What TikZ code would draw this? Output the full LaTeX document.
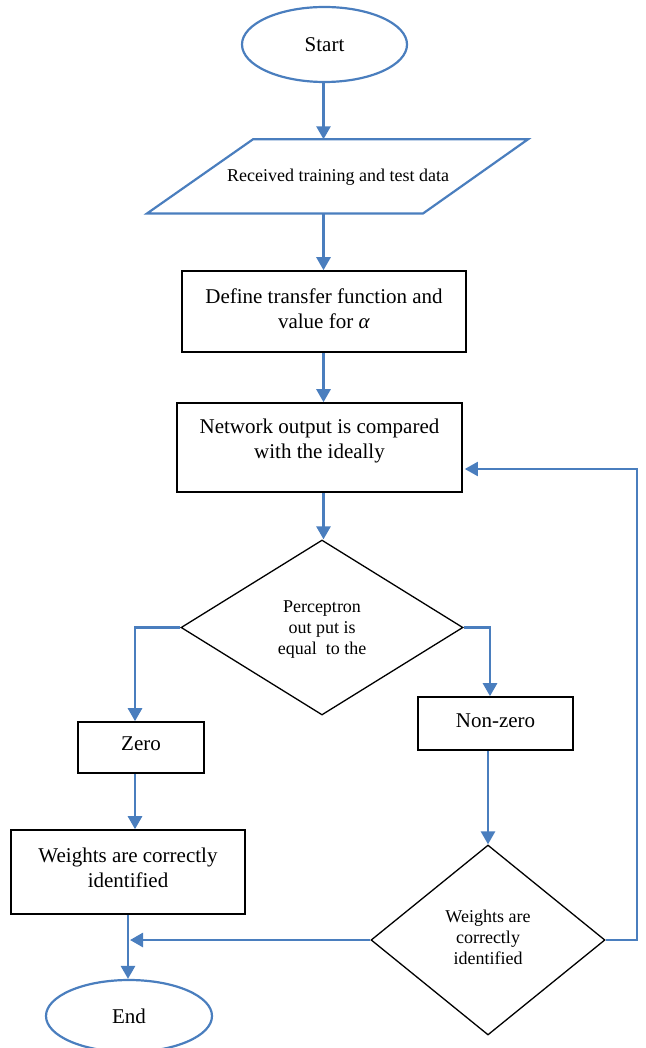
\documentclass[tikz,border=0pt]{standalone}
\usepackage{fontspec}
\setmainfont{Liberation Serif}
\usetikzlibrary{shapes.geometric,arrows.meta}
\definecolor{flowblue}{RGB}{74,126,190}
\begin{document}
\begin{tikzpicture}[x=1pt,y=-1pt,
  conn/.style={draw=flowblue,line width=2.7pt,-{Triangle[length=13pt,width=14pt]}},
  term/.style={ellipse,draw=flowblue,line width=2.2pt,inner sep=0pt,font=\fontsize{21}{25}\selectfont},
  box/.style={rectangle,draw=black,line width=1.6pt,inner sep=0pt},
  dec/.style={diamond,draw=black,line width=1.3pt,inner sep=0pt},
  btxt/.style={align=center,font=\fontsize{21}{25}\selectfont},
  stxt/.style={align=center,font=\fontsize{18}{21}\selectfont},
]
\clip (0,0) rectangle (645,1048);

\node[term,minimum width=165pt,minimum height=75pt] (start) at (324.5,44.5) {Start};
\node[stxt] (recv) at (338,177) {Received training and test data};
\draw[draw=flowblue,line width=2.2pt] (253,139.3) -- (528,139.3) -- (423,213.5) -- (147,213.5) -- cycle;
\coordinate (recvtop) at (323.5,139.3);
\coordinate (recvbot) at (323.5,213.5);

\node[box,minimum width=284pt,minimum height=81pt,
  label={[btxt,yshift=3pt]center:{Define transfer function and\\value for \textit{α}}}] (def) at (324,311.5) {};
\node[box,minimum width=285pt,minimum height=89pt,
  label={[btxt,yshift=7pt]center:{Network output is compared\\with the ideally}}] (net) at (319.5,447.5) {};
\node[dec,minimum width=282pt,minimum height=175pt,
  label={[stxt,yshift=-2pt]center:{Perceptron\\out put is\\equal\ \ to the}}] (d1) at (322,627.5) {};
\node[box,minimum width=126pt,minimum height=51pt,
  label={[btxt,yshift=4pt]center:Zero}] (zero) at (141,747.5) {};
\node[box,minimum width=155pt,minimum height=53pt,
  label={[btxt,yshift=3pt]center:Non-zero}] (nonzero) at (495.5,723.5) {};
\node[box,minimum width=234pt,minimum height=84pt,
  label={[btxt,yshift=4pt]center:{Weights are correctly\\identified}}] (weights) at (128,872) {};
\node[dec,minimum width=234pt,minimum height=190pt,
  label={[stxt,yshift=3pt]center:{Weights are\\correctly\\identified}}] (d2) at (488,940) {};
\node[term,minimum width=166pt,minimum height=72pt] (end) at (129,1016) {End};
\coordinate (fb) at (637,469);

\draw[conn] (recvtop |- start.south) -- (recvtop);
\draw[conn] (recvbot) -- (recvbot |- def.north);
\draw[conn] (recvbot |- def.south) -- (recvbot |- net.north);
\draw[conn] (recvbot |- net.south) -- (recvbot |- d1.north);
\draw[conn] (d1.west) -| ([xshift=-6pt]zero.north);
\draw[conn] (d1.east) -| ([xshift=-5.5pt]nonzero.north);
\draw[conn] (d2.north |- nonzero.south) -- (d2.north);
\draw[conn] ([xshift=-6pt]zero.south) -- ([xshift=-6pt]zero.south |- weights.north);
\draw[conn] (weights.south) -- (weights.south |- end.north);
\draw[conn,shorten >=2pt] (d2.west) -- (weights.south |- d2.west);
\draw[conn,line width=2pt,shorten >=2pt] (d2.east) -| (fb) -- (fb -| net.east);
\end{tikzpicture}
\end{document}
